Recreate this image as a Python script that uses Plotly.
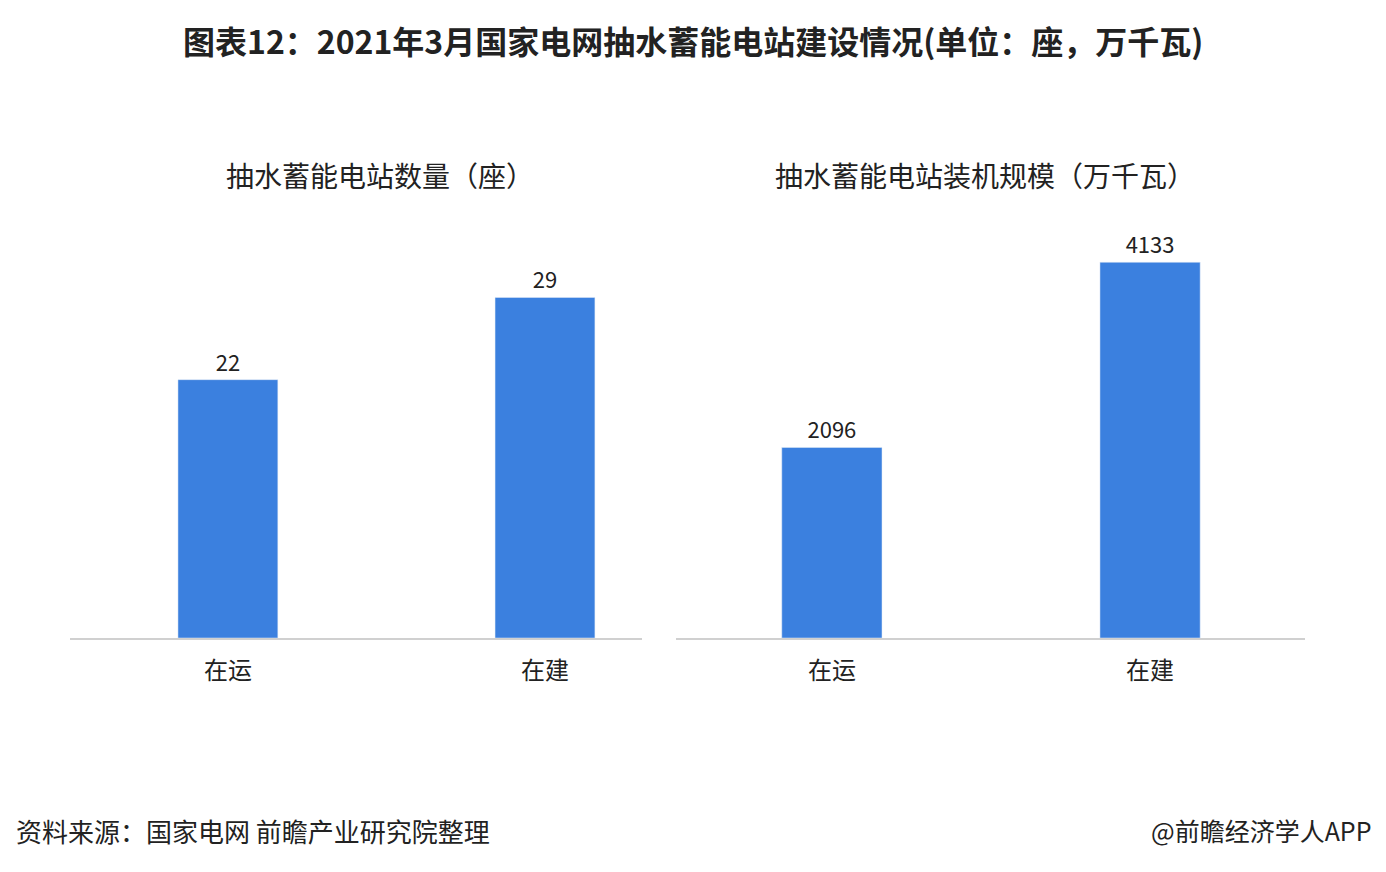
import plotly.graph_objects as go

categories = ["在运", "在建"]
station_count = [22, 29]
capacity = [2096, 4133]

bar_color = "#3B80DF"
font_family = "Noto Sans CJK SC"
W, H = 1386, 872
OFF = 8  # page body offset


def px_x(x):
    return (x - OFF) / W


def px_y(y):
    return (H - (y - OFF)) / H


fig = go.Figure()
fig.add_trace(go.Bar(x=categories, y=station_count, text=station_count, textposition="outside",
                     marker_color=bar_color, width=0.315, xaxis="x", yaxis="y",
                     textfont=dict(size=22, color="#222"), cliponaxis=False))
fig.add_trace(go.Bar(x=categories, y=capacity, text=capacity, textposition="outside",
                     marker_color=bar_color, width=0.315, xaxis="x2", yaxis="y2",
                     textfont=dict(size=22, color="#222"), cliponaxis=False))

axis_common = dict(showgrid=False, zeroline=False, tickfont=dict(size=24, color="#222"), ticks="",
                   showline=True, linecolor="#d0d0d0", linewidth=1.5, ticklabelstandoff=10)

fig.update_layout(
    width=W, height=H,
    margin=dict(l=0, r=0, t=0, b=0),
    paper_bgcolor="white", plot_bgcolor="white",
    font=dict(family=font_family, color="#222"),
    showlegend=False,
    xaxis=dict(domain=[px_x(70), px_x(642)], range=[-0.498, 1.306], anchor="y", **axis_common),
    yaxis=dict(domain=[px_y(638), px_y(200)], range=[0, 37.3], visible=False, anchor="x"),
    xaxis2=dict(domain=[px_x(676), px_x(1305)], range=[-0.49, 1.487], anchor="y2", **axis_common),
    yaxis2=dict(domain=[px_y(638), px_y(200)], range=[0, 4818], visible=False, anchor="x2"),
)

texts = [
    ("<b>图表12：2021年3月国家电网抽水蓄能电站建设情况(单位：座，万千瓦)</b>", 693, 40, "center", 32),
    ("抽水蓄能电站数量（座）", 380, 175, "center", 28),
    ("抽水蓄能电站装机规模（万千瓦）", 985, 175, "center", 28),
    ("资料来源：国家电网 前瞻产业研究院整理", 14, 830, "left", 26),
    ("@前瞻经济学人APP", 1374, 830, "right", 25),
]
for text, x, y, anchor, size in texts:
    fig.add_annotation(text=text, x=px_x(x), y=px_y(y), xref="paper", yref="paper",
                       xanchor=anchor, yanchor="middle", showarrow=False,
                       font=dict(size=size, color="#222"))

fig.write_html("out.html")
